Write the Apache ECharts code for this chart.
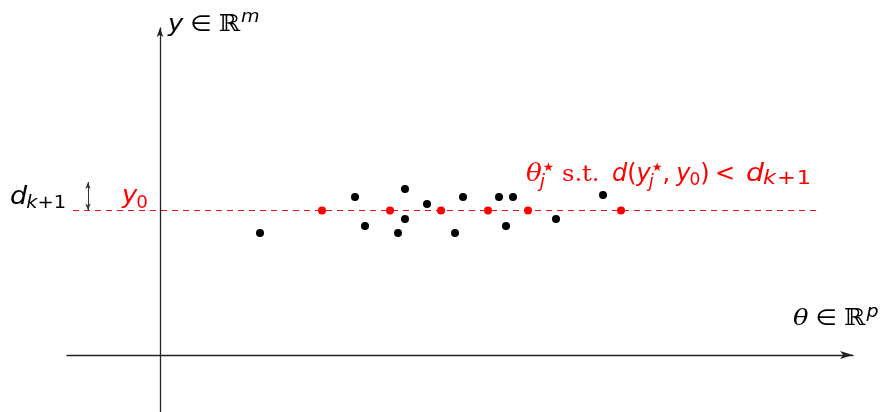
<!DOCTYPE html>
<html>
<head>
<meta charset="utf-8">
<script src="https://cdn.jsdelivr.net/npm/echarts@6/dist/echarts.min.js"></script>
<style>
  html, body { margin: 0; padding: 0; background: #fff; }
  #chart { width: 883px; height: 412px; }
</style>
</head>
<body>
<div id="chart"></div>
<script>
// Simulated parameters theta and their summaries y (theta, y)
const samplesTheta = [10.0, 19.5, 20.5, 23.8, 24.5, 24.5, 26.7, 29.5, 30.3, 33.9, 35.3, 34.6, 39.6, 44.3];
const samplesY     = [12.2, 15.8, 12.9, 12.2, 16.6, 13.6, 15.1, 12.2, 15.8, 15.8, 15.8, 12.9, 13.6, 16.0];

// Accepted parameters theta_j* lying on the observed level y0
const acceptedTheta = [16.2, 23.0, 28.1, 32.8, 36.8, 46.1];

// Observed summary and tolerance d_{k+1}
const y0 = 14.45;
const tolerance = 2.85;

// Extent of the dashed y0 level and position of the tolerance marker
const levelRange = [-8.7, 65.7];
const toleranceAt = -7.2;

// Axis extents
const thetaRange = [-9.3, 69.3];
const yRange = [-5.7, 32.7];

const RED = '#ff0000';
const INK = '#000000';

const SANS = '"DejaVu Sans", sans-serif';
const SERIF = '"DejaVu Serif", serif';

const measure = document.createElement('canvas').getContext('2d');

function fontOf(p) {
  return (p.it ? 'italic ' : '') + p.s + 'px ' + (p.serif ? SERIF : SANS);
}

// Typesets a run of glyph pieces left to right starting at x.
// base: alphabetic baseline; canvas 'middle' is ~0.346 em above it for DejaVu.
// p.stack: the next piece shares this horizontal slot (super/subscript pair).
// p.kern: extra horizontal offset before the piece; p.sx: horizontal stretch.
function typeset(x, base, color, pieces, sx) {
  const out = [];
  let cursor = x, slot = 0;
  pieces.forEach(p => {
    const k = p.sx != null ? p.sx : sx;
    const pos = cursor + (p.kern || 0);
    measure.font = fontOf(p);
    const w = measure.measureText(p.t).width * k + (p.kern || 0);
    const b = base + (p.dy || 0);
    const y = p.center != null ? base + p.center : b - 0.346 * p.s;
    out.push({
      type: 'text', x: pos, y: y, scaleX: k, silent: true, z: 10,
      style: { text: p.t, font: fontOf(p), fill: color, align: 'left', verticalAlign: 'middle' }
    });
    if (p.stack) {
      slot = Math.max(slot, w);
    } else {
      cursor += Math.max(slot, w) + (p.after || 0);
      slot = 0;
    }
  });
  return out;
}

const labels = [].concat(
  // y ∈ ℝ^m  (vertical axis)
  typeset(168, 33, INK, [
    { t: 'y', s: 23, it: true, after: 7 },
    { t: '∈', s: 22, after: 7 },
    { t: 'ℝ', s: 23, serif: true, after: 1 },
    { t: 'm', s: 17, it: true, dy: -10 }
  ], 1.12),

  // θ ∈ ℝ^p  (horizontal axis)
  typeset(793, 327, INK, [
    { t: 'θ', s: 23, it: true, serif: true, after: 7 },
    { t: '∈', s: 22, after: 7 },
    { t: 'ℝ', s: 23, serif: true, after: 1 },
    { t: 'p', s: 17, it: true, dy: -9 }
  ], 1.12),

  // d_{k+1} beside the tolerance marker
  typeset(10, 206, INK, [
    { t: 'd', s: 25, it: true, after: -1 },
    { t: 'k', s: 18, it: true, dy: 4 },
    { t: '+', s: 18, dy: 4 },
    { t: '1', s: 18, dy: 4 }
  ], 1.08),

  // y_0 on the observed level
  typeset(122, 205, RED, [
    { t: 'y', s: 24, it: true, after: -1 },
    { t: '0', s: 17, dy: 4 }
  ], 1.08),

  // θ_j*
  typeset(526, 183, RED, [
    { t: 'θ', s: 25, it: true, serif: true },
    { t: '★', s: 12, center: -15, kern: 1, stack: true },
    { t: 'j', s: 18, it: true, dy: 6, kern: -2 }
  ], 1.05),

  // s.t.
  typeset(562, 183, RED, [
    { t: 's.t.', s: 23, serif: true }
  ], 1.05),

  // d(y_j*, y_0)
  typeset(612, 183, RED, [
    { t: 'd', s: 24, it: true },
    { t: '(', s: 24 },
    { t: 'y', s: 24, it: true },
    { t: '★', s: 12, center: -15, kern: 1, stack: true },
    { t: 'j', s: 18, it: true, dy: 6, kern: -2 },
    { t: ',', s: 24, after: 6 },
    { t: 'y', s: 24, it: true, after: -1 },
    { t: '0', s: 17, dy: 3 },
    { t: ')', s: 24 }
  ], 1.0),

  // < d_{k+1}
  typeset(715, 183, RED, [
    { t: '<', s: 24 }
  ], 1.0),
  typeset(746, 183, RED, [
    { t: 'd', s: 24, it: true, after: -1 },
    { t: 'k', s: 19, it: true, dy: 3, after: 1 },
    { t: '+', s: 19, dy: 3, after: 1 },
    { t: '1', s: 19, dy: 3 }
  ], 1.18)
);

const chart = echarts.init(document.getElementById('chart'), null, { renderer: 'canvas' });

const option = {
  animation: false,
  backgroundColor: '#ffffff',
  grid: { left: 67, right: 30, top: 28, bottom: 0, containLabel: false },
  xAxis: {
    type: 'value', min: thetaRange[0], max: thetaRange[1],
    axisLine: { show: true, onZero: true, symbol: ['none', 'arrow'], symbolSize: [6, 13],
                lineStyle: { color: '#222222', width: 1.3 } },
    axisTick: { show: false }, axisLabel: { show: false }, splitLine: { show: false }
  },
  yAxis: {
    type: 'value', min: yRange[0], max: yRange[1],
    axisLine: { show: true, onZero: true, symbol: ['none', 'arrow'], symbolSize: [5, 9],
                lineStyle: { color: '#222222', width: 1.3 } },
    axisTick: { show: false }, axisLabel: { show: false }, splitLine: { show: false }
  },
  series: [
    {
      name: 'y0 level',
      type: 'line',
      data: levelRange.map(t => [t, y0]),
      symbol: 'none',
      silent: true,
      lineStyle: { color: '#e8101a', width: 1, type: [6, 5] },
      z: 1,
      markLine: {
        silent: true,
        symbol: ['arrow', 'arrow'],
        symbolSize: [4, 7],
        label: { show: false },
        lineStyle: { color: '#333333', type: 'solid', width: 1 },
        data: [[{ coord: [toleranceAt, y0] }, { coord: [toleranceAt, y0 + tolerance] }]]
      }
    },
    {
      name: 'samples',
      type: 'scatter',
      data: samplesTheta.map((t, i) => [t, samplesY[i]]),
      symbol: 'circle',
      symbolSize: 8,
      itemStyle: { color: '#000000', opacity: 1 },
      z: 3
    },
    {
      name: 'accepted',
      type: 'scatter',
      data: acceptedTheta.map(t => [t, y0]),
      symbol: 'circle',
      symbolSize: 8,
      itemStyle: { color: RED, opacity: 1 },
      z: 4
    }
  ],
  graphic: labels
};

chart.setOption(option);
</script>
</body>
</html>
